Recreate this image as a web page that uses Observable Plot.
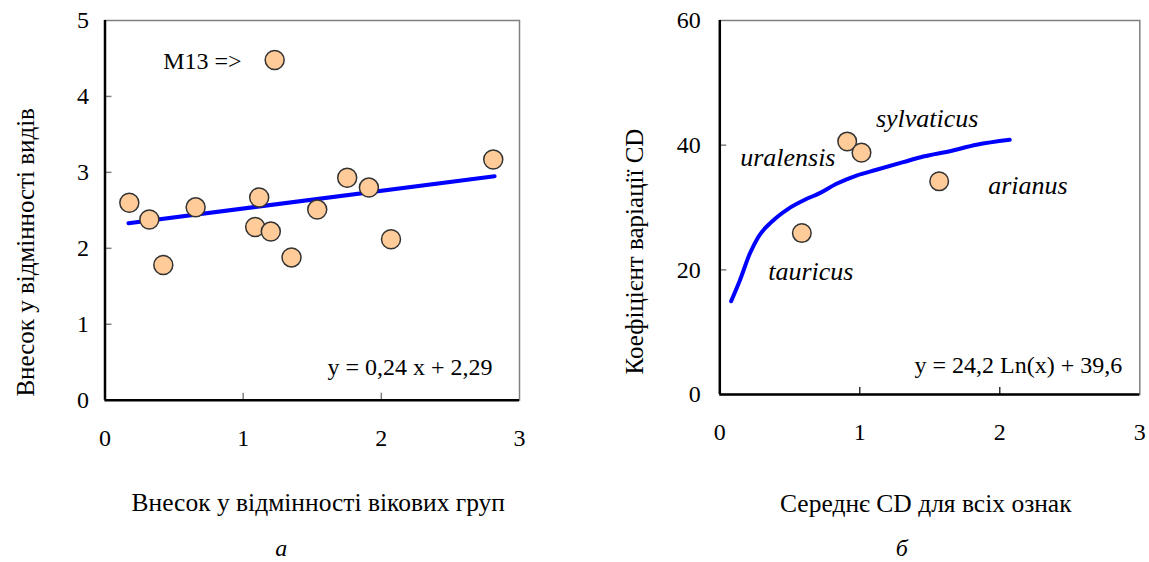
<!DOCTYPE html>
<html>
<head>
<meta charset="utf-8">
<script src="https://cdn.jsdelivr.net/npm/d3@7"></script>
<script src="https://cdn.jsdelivr.net/npm/@observablehq/plot@0.6"></script>
<style>
  html, body { margin: 0; padding: 0; background: #fff; }
  #wrap { display: flex; width: 1149px; height: 562px; overflow: hidden; }
  svg { display: block; }
  #wrap svg, #wrap svg text, #wrap svg tspan { font-family: "Liberation Serif", "Times New Roman", serif !important; }
</style>
</head>
<body>
<div id="wrap"></div>
<script>
// ---- Panel а: data ----
const ageX = [0.176, 0.321, 0.422, 0.656, 1.116, 1.087, 1.20, 1.35, 1.536, 1.753, 1.91, 2.07, 2.81];
const ageY = [2.60, 2.38, 1.78, 2.54, 2.67, 2.28, 2.22, 1.88, 2.51, 2.93, 2.80, 2.12, 3.17];
const outlierName = ["M13"];
const outlierX = [1.228];
const outlierY = [4.48];
const trendAX = [0.17, 2.82];
const trendAY = [2.33, 2.95];
const ticksAX = [0, 1, 2, 3];
const ticksAY = [0, 1, 2, 3, 4, 5];
const eqA = "y = 0,24 x + 2,29";
const titleAX = "Внесок у відмінності вікових груп";
const titleAY = "Внесок у відмінності видів";
const captionA = "а";

// ---- Panel б: data ----
const species = ["sylvaticus", "uralensis", "arianus", "tauricus"];
const speciesX = [0.91, 1.012, 1.567, 0.586];
const speciesY = [40.6, 38.8, 34.2, 25.9];
const curveX = [0.081, 0.143, 0.214, 0.274, 0.381, 0.489, 0.607, 0.714, 0.834, 0.976, 1.119, 1.31, 1.453, 1.643, 1.834, 2.071];
const curveY = [14.97, 18.29, 22.57, 25.24, 27.92, 29.79, 31.24, 32.30, 33.80, 35.13, 36.05, 37.27, 38.18, 39.03, 40.06, 40.86];
const ticksBX = [0, 1, 2, 3];
const ticksBY = [0, 20, 40, 60];
const eqB = "y = 24,2 Ln(x) + 39,6";
const titleBX = "Середнє CD для всіх ознак";
const titleBY = "Коефіцієнт варіації CD";
const captionB = "б";

// ---- build tables ----
const ptsA = ageX.map((x, i) => ({x, y: ageY[i]}));
const outA = outlierX.map((x, i) => ({x, y: outlierY[i], name: outlierName[i]}));
const lineA = trendAX.map((x, i) => ({x, y: trendAY[i]}));
const ptsB = species.map((name, i) => ({name, x: speciesX[i], y: speciesY[i]}));
const lineB = curveX.map((x, i) => ({x, y: curveY[i]}));

const FONT = "Liberation Serif";
const PEACH = "#FFCC99";
const DOTSTROKE = "#333333";
const GRAY = "#808080";

// Panel а
const WA = 574, HA = 562;
const mA = {left: 104.5, right: WA - 519, top: 20, bottom: HA - 399.7};
const fwA = WA - mA.left - mA.right, fhA = HA - mA.top - mA.bottom;

const plotA = Plot.plot({
  width: WA, height: HA,
  marginLeft: mA.left, marginRight: mA.right, marginTop: mA.top, marginBottom: mA.bottom,
  style: {fontFamily: FONT, fontSize: "24px", color: "#000", background: "#fff"},
  x: {domain: [0, 3]},
  y: {domain: [0, 5]},
  marks: [
    Plot.frame({stroke: GRAY, strokeWidth: 1.5}),
    Plot.tickX(ticksAX.slice(1, -1), {x: d => d, stroke: GRAY, strokeWidth: 1.5, insetTop: fhA - 7}),
    Plot.tickY(ticksAY.slice(1, -1), {y: d => d, stroke: GRAY, strokeWidth: 1.5, insetRight: fwA - 7}),
    Plot.ruleX([0], {stroke: "#000", strokeWidth: 2.5}),
    Plot.ruleY([0], {stroke: "#000", strokeWidth: 2.5}),
    Plot.axisX({ticks: ticksAX, tickSize: 0, tickPadding: 29, tickFormat: d => String(d), label: null, fontFamily: FONT}),
    Plot.axisY({ticks: ticksAY, tickSize: 0, tickPadding: 16, tickFormat: d => String(d), label: null, fontFamily: FONT}),
    Plot.line(lineA, {x: "x", y: "y", stroke: "#0000FF", strokeWidth: 4}),
    Plot.dot(ptsA, {x: "x", y: "y", r: 9.5, fill: PEACH, stroke: DOTSTROKE, strokeWidth: 1.5}),
    Plot.dot(outA, {x: "x", y: "y", r: 9.5, fill: PEACH, stroke: DOTSTROKE, strokeWidth: 1.5}),
    Plot.text(outA, {x: "x", y: "y", text: d => d.name + " =>", textAnchor: "end", dx: -33, dy: 1, fontSize: 24, fontFamily: FONT}),
    Plot.text([eqA], {text: d => d, frameAnchor: "bottom-right", textAnchor: "end", lineAnchor: "middle", dx: -27, dy: -33, fontSize: 24, fontFamily: FONT}),
    Plot.text([titleAY], {text: d => d, frameAnchor: "left", textAnchor: "middle", lineAnchor: "middle", rotate: -90, dx: -79.5, dy: 42, fontSize: 25, fontFamily: FONT}),
    Plot.text([titleAX], {text: d => d, frameAnchor: "bottom", textAnchor: "middle", lineAnchor: "middle", dx: 6, dy: 103, fontSize: 25.5, fontFamily: FONT}),
    Plot.text([captionA], {text: d => d, frameAnchor: "bottom", textAnchor: "middle", lineAnchor: "middle", dx: -31, dy: 148, fontSize: 24, fontStyle: "italic", fontFamily: FONT})
  ]
});

// Panel б
const WB = 575, HB = 562;
const mB = {left: 719.3 - 574, right: 1149 - 1139.3, top: 20, bottom: HB - 394};
const fwB = WB - mB.left - mB.right, fhB = HB - mB.top - mB.bottom;

const labelOffsets = {
  sylvaticus: {dx: 80, dy: -23, anchor: "middle"},
  uralensis: {dx: -26, dy: 5, anchor: "end"},
  arianus: {dx: 49, dy: 4, anchor: "start"},
  tauricus: {dx: 9, dy: 39, anchor: "middle"}
};

const plotB = Plot.plot({
  width: WB, height: HB,
  marginLeft: mB.left, marginRight: mB.right, marginTop: mB.top, marginBottom: mB.bottom,
  style: {fontFamily: FONT, fontSize: "24px", color: "#000", background: "#fff"},
  x: {domain: [0, 3]},
  y: {domain: [0, 60]},
  marks: [
    Plot.frame({stroke: GRAY, strokeWidth: 1.5}),
    Plot.tickX(ticksBX.slice(1, -1), {x: d => d, stroke: "#000", strokeWidth: 1.2, insetTop: fhB - 7}),
    Plot.tickY(ticksBY.slice(1, -1), {y: d => d, stroke: GRAY, strokeWidth: 1.5, insetRight: fwB - 7}),
    Plot.ruleX([0], {stroke: "#000", strokeWidth: 2.5}),
    Plot.ruleY([0], {stroke: "#000", strokeWidth: 2.5}),
    Plot.axisX({ticks: ticksBX, tickSize: 0, tickPadding: 28, tickFormat: d => String(d), label: null, fontFamily: FONT}),
    Plot.axisY({ticks: ticksBY, tickSize: 0, tickPadding: 19, tickFormat: d => String(d), label: null, fontFamily: FONT}),
    Plot.line(lineB, {x: "x", y: "y", stroke: "#0000FF", strokeWidth: 4, curve: "monotone-x"}),
    Plot.dot(ptsB, {x: "x", y: "y", r: 9.3, fill: PEACH, stroke: DOTSTROKE, strokeWidth: 1.5}),
    ...species.map(s => Plot.text(ptsB.filter(d => d.name === s), {
      x: "x", y: "y", text: "name", fontStyle: "italic", fontSize: 26, fontFamily: FONT,
      dx: labelOffsets[s].dx, dy: labelOffsets[s].dy, textAnchor: labelOffsets[s].anchor
    })),
    Plot.text([eqB], {text: d => d, frameAnchor: "bottom-right", textAnchor: "end", lineAnchor: "middle", dx: -17.6, dy: -29, fontSize: 24, fontFamily: FONT}),
    Plot.text([titleBY], {text: d => d, frameAnchor: "left", textAnchor: "middle", lineAnchor: "middle", rotate: -90, dx: -85.3, dy: 44, fontSize: 25, fontFamily: FONT}),
    Plot.text([titleBX], {text: d => d, frameAnchor: "bottom", textAnchor: "middle", lineAnchor: "middle", dx: -4, dy: 109, fontSize: 25.5, fontFamily: FONT}),
    Plot.text([captionB], {text: d => d, frameAnchor: "bottom", textAnchor: "middle", lineAnchor: "middle", dx: -28, dy: 154, fontSize: 24, fontStyle: "italic", fontFamily: FONT})
  ]
});

const wrap = document.getElementById("wrap");
wrap.appendChild(plotA);
wrap.appendChild(plotB);
</script>
</body>
</html>
